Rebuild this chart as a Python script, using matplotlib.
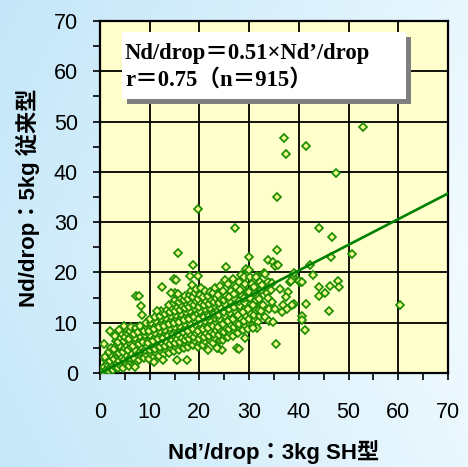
import numpy as np
import matplotlib.pyplot as plt
from matplotlib.ticker import MultipleLocator
from matplotlib.patches import Rectangle

# dense cloud, read column by column (x ~ 1 unit wide strips)
cloud_x = [
    0.6, 0.9, 1.2, 1.5, 1.3, 1.0,
    1.8, 2.1, 2.4, 2.0, 2.6, 2.3, 1.9, 2.2,
    2.7, 3.0, 3.3, 2.9, 3.5, 3.1, 2.8, 3.4, 3.2, 3.0,
    3.7, 4.1, 3.9, 4.3, 3.8, 4.4, 4.0, 3.6, 4.2, 4.5, 3.9,
    4.7, 5.2, 4.9, 5.4, 4.6, 5.1, 5.3, 4.8, 5.0, 5.5, 5.2, 4.9,
    5.8, 6.2, 6.0, 6.4, 5.7, 6.3, 6.1, 5.9, 6.5, 6.0, 6.2,
    6.8, 7.2, 6.9, 7.4, 7.0, 6.7, 7.3, 7.1, 6.9, 7.5, 7.2,
    7.8, 8.2, 8.0, 8.4, 7.9, 8.3, 8.1, 7.7, 8.5, 8.0,
    8.8, 9.2, 9.0, 9.4, 8.7, 9.3, 9.1, 8.9, 9.5, 9.2,
    9.8, 10.2, 10.0, 10.4, 9.7, 10.3, 10.1, 9.9, 10.5, 10.2, 10.0,
    10.8, 11.2, 11.0, 11.4, 10.7, 11.3, 11.1, 10.9, 11.5, 11.2, 11.0,
    11.8, 12.2, 12.0, 12.4, 11.7, 12.3, 12.1, 11.9, 12.5, 12.2, 12.0, 12.3,
    12.8, 13.2, 13.0, 13.4, 12.7, 13.3, 13.1, 12.9, 13.5, 13.2, 13.0, 13.4,
    13.8, 14.2, 14.0, 14.4, 13.7, 14.3, 14.1, 13.9, 14.5, 14.2, 14.0, 14.4, 13.8,
    14.8, 15.2, 15.0, 15.4, 14.7, 15.3, 15.1, 14.9, 15.5, 15.2, 15.0, 15.4, 14.8, 15.1,
    15.8, 16.2, 16.0, 16.4, 15.7, 16.3, 16.1, 15.9, 16.5, 16.2, 16.0, 16.4, 15.8, 16.1,
    16.8, 17.2, 17.0, 17.4, 16.7, 17.3, 17.1, 16.9, 17.5, 17.2, 17.0, 17.4, 16.8, 17.1,
    17.8, 18.2, 18.0, 18.4, 17.7, 18.3, 18.1, 17.9, 18.5, 18.2, 18.0, 18.4, 17.8, 18.1, 18.3,
    18.8, 19.2, 19.0, 19.4, 18.7, 19.3, 19.1, 18.9, 19.5, 19.2, 19.0, 19.4, 18.8, 19.1, 19.3,
    19.8, 20.2, 20.0, 20.4, 19.7, 20.3, 20.1, 19.9, 20.5, 20.2, 20.0, 20.4, 19.8, 20.1, 20.3,
    20.8, 21.2, 21.0, 21.4, 20.7, 21.3, 21.1, 20.9, 21.5, 21.2, 21.0, 21.4, 20.8, 21.1,
    21.8, 22.2, 22.0, 22.4, 21.7, 22.3, 22.1, 21.9, 22.5, 22.2, 22.0, 22.4, 21.8, 22.1,
    22.8, 23.2, 23.0, 23.4, 22.7, 23.3, 23.1, 22.9, 23.5, 23.2, 23.0, 23.4, 22.8, 23.1,
    23.8, 24.2, 24.0, 24.4, 23.7, 24.3, 24.1, 23.9, 24.5, 24.2, 24.0, 24.4, 23.8, 24.1,
    24.8, 25.2, 25.0, 25.4, 24.7, 25.3, 25.1, 24.9, 25.5, 25.2, 25.0, 25.4, 24.8, 25.1,
    25.8, 26.2, 26.0, 26.4, 25.7, 26.3, 26.1, 25.9, 26.5, 26.2, 26.0, 26.4, 25.8,
    26.8, 27.2, 27.0, 27.4, 26.7, 27.3, 27.1, 26.9, 27.5, 27.2, 27.0, 27.4, 26.8,
    27.8, 28.2, 28.0, 28.4, 27.7, 28.3, 28.1, 27.9, 28.5, 28.2, 28.0, 28.4,
    28.8, 29.2, 29.0, 29.4, 28.7, 29.3, 29.1, 28.9, 29.5, 29.2, 29.0, 29.4,
    29.8, 30.2, 30.0, 30.4, 29.7, 30.3, 30.1, 29.9, 30.5, 30.2, 30.0,
    30.8, 31.2, 31.0, 31.4, 30.7, 31.3, 31.1, 30.9, 31.5,
    31.8, 32.2, 32.0, 32.4, 31.7, 32.3, 32.1,
    32.9, 31.4, 34.2, 38.2, 38.8, 40.2, 31.5, 32.4, 33.2, 32.8, 31.9, 33.5, 32.6, 33.9, 34.6, 36.2, 30.7,
]
cloud_y = [
    0.4, 1.1, 0.6, 1.8, 2.5, 3.2,
    0.3, 1.0, 1.6, 2.3, 2.9, 3.6, 4.2, 5.0,
    0.5, 1.2, 2.0, 2.7, 3.3, 4.1, 4.8, 5.6, 6.4, 7.4,
    0.9, 1.6, 2.4, 3.1, 3.9, 4.6, 5.4, 6.2, 7.0, 7.8, 8.6,
    1.0, 1.8, 2.5, 3.3, 4.1, 4.9, 5.6, 6.4, 7.2, 8.0, 8.8, 9.3,
    1.3, 2.1, 2.9, 3.7, 4.5, 5.2, 6.0, 6.8, 7.6, 8.4, 9.1,
    1.6, 2.2, 3.0, 3.8, 4.6, 5.4, 6.1, 6.9, 7.7, 8.5, 9.0,
    2.6, 3.4, 4.2, 5.0, 5.8, 6.5, 7.3, 8.1, 8.7, 9.4,
    3.0, 3.8, 4.6, 5.3, 6.1, 6.9, 7.6, 8.4, 9.2, 9.9,
    2.8, 3.7, 4.5, 5.2, 6.0, 6.8, 7.6, 8.3, 9.1, 9.9, 10.7,
    3.2, 4.0, 4.8, 5.6, 6.4, 7.2, 8.0, 8.8, 9.6, 10.4, 11.1,
    3.4, 4.3, 5.1, 5.9, 6.7, 7.5, 8.3, 9.1, 9.9, 10.7, 11.4, 12.3,
    3.8, 4.6, 5.4, 6.2, 7.0, 7.8, 8.6, 9.4, 10.2, 11.0, 11.8, 12.6,
    4.0, 4.9, 5.7, 6.5, 7.3, 8.1, 8.9, 9.7, 10.5, 11.3, 12.1, 12.9, 13.6,
    4.3, 5.1, 5.9, 6.7, 7.5, 8.3, 9.1, 9.9, 10.7, 11.5, 12.3, 13.1, 13.9, 14.6,
    4.6, 5.4, 6.2, 7.0, 7.8, 8.6, 9.4, 10.2, 11.0, 11.8, 12.6, 13.4, 14.2, 15.0,
    5.0, 5.8, 6.6, 7.4, 8.2, 9.0, 9.8, 10.6, 11.4, 12.2, 13.0, 13.8, 14.6, 15.4,
    5.2, 6.0, 6.8, 7.6, 8.4, 9.2, 10.0, 10.8, 11.6, 12.4, 13.2, 14.0, 14.8, 15.6, 16.4,
    5.5, 6.3, 7.1, 7.9, 8.7, 9.5, 10.3, 11.1, 11.9, 12.7, 13.5, 14.3, 15.1, 15.9, 16.7,
    5.2, 6.0, 6.8, 7.6, 8.4, 9.2, 10.0, 10.8, 11.6, 12.4, 13.2, 14.0, 14.8, 15.6, 17.0,
    5.6, 6.4, 7.2, 8.0, 8.8, 9.6, 10.4, 11.2, 12.0, 12.8, 13.6, 14.4, 15.2, 16.4,
    4.6, 6.6, 7.4, 8.2, 9.0, 9.8, 10.6, 11.4, 12.2, 13.0, 13.8, 14.6, 15.4, 16.2,
    6.0, 6.9, 7.7, 8.5, 9.3, 10.1, 10.9, 11.7, 12.5, 13.3, 14.1, 14.9, 15.9, 17.0,
    5.0, 6.6, 7.5, 8.3, 9.1, 9.9, 10.7, 11.5, 12.3, 13.1, 13.9, 14.7, 15.6, 17.4,
    6.6, 7.4, 8.2, 9.0, 9.8, 10.6, 11.4, 12.2, 13.0, 13.8, 14.6, 15.4, 16.4, 18.5,
    7.2, 8.0, 8.8, 9.6, 10.4, 11.2, 12.0, 12.8, 13.6, 14.4, 15.2, 16.4, 17.6,
    7.4, 8.3, 9.1, 9.9, 10.7, 11.5, 12.3, 13.1, 13.9, 14.7, 15.8, 17.2, 18.6,
    8.0, 8.9, 9.8, 10.7, 11.6, 12.5, 13.4, 14.3, 15.4, 16.6, 18.0, 19.4,
    8.6, 9.5, 10.4, 11.3, 12.2, 13.1, 14.0, 15.0, 16.2, 17.6, 19.0, 20.6,
    8.8, 9.8, 10.8, 11.8, 12.8, 13.8, 15.0, 16.2, 17.6, 19.0, 20.4,
    9.6, 10.6, 11.6, 12.6, 13.6, 14.6, 16.0, 17.2, 19.2,
    10.2, 11.4, 12.6, 13.8, 15.2, 16.6, 18.0,
    19.9, 19.1, 17.9, 18.0, 19.1, 18.0, 8.9, 12.3, 11.2, 13.5, 14.8, 16.0, 17.5, 12.8, 14.2, 16.8, 8.9,
]

# scattered points away from the main cloud
outlier_x = [52.9, 37.1, 37.4, 41.4, 47.4, 35.7, 19.8, 27.2, 44.1, 46.6,
             35.7, 46.5, 50.7, 15.6, 30.0, 33.8, 34.8, 35.3, 35.9, 18.8,
             25.3, 42.2, 42.8, 60.4, 44.1, 44.0, 45.2, 46.2, 47.9, 48.1,
             46.1, 41.2, 41.5, 40.6, 40.7, 40.1, 40.6, 39.1, 38.4, 37.9,
             37.4, 39.1, 38.6, 36.8, 36.6, 37.6, 35.3, 34.0, 34.8, 35.4,
             33.8, 34.4, 33.8, 34.5, 33.1, 27.5, 28.0, 24.6, 23.6, 29.1,
             15.4, 17.4, 10.9, 12.6, 7.1, 0.9, 2.0, 7.2, 7.9, 8.3,
             8.5, 11.4, 12.5, 14.8, 15.2, 15.1, 15.6, 14.3, 18.1, 18.6,
             19.7]
outlier_y = [49.0, 46.7, 43.6, 45.2, 39.8, 35.0, 32.7, 28.8, 28.9, 27.0,
             24.5, 23.0, 23.6, 23.9, 23.0, 22.4, 22.1, 21.2, 21.5, 21.4,
             21.0, 21.4, 19.5, 13.6, 17.2, 15.4, 15.9, 17.4, 18.2, 17.1,
             12.3, 8.6, 13.7, 11.4, 10.6, 18.2, 18.1, 19.9, 18.2, 16.2,
             15.1, 13.8, 13.6, 13.6, 12.1, 12.7, 12.7, 10.3, 10.1, 5.8,
             14.9, 16.6, 18.0, 17.9, 19.7, 5.0, 4.8, 4.5, 5.0, 7.0,
             2.5, 2.5, 2.1, 2.6, 1.1, 5.8, 8.4, 15.4, 15.4, 13.4,
             11.5, 12.3, 17.1, 18.7, 18.5, 15.9, 15.8, 15.9, 19.3, 17.5,
             19.3]

slope = 0.51
fit_x = [0, 70]

sans = ['Liberation Sans', 'Noto Sans CJK JP']
serif = ['Liberation Serif', 'Noto Sans CJK JP']

fig = plt.figure(figsize=(4.68, 4.67), dpi=100)

# light blue page background
bg = fig.add_axes([0, 0, 1, 1], zorder=-10)
gx, gy = np.meshgrid(np.linspace(0, 1, 200), np.linspace(0, 1, 200))
w = np.clip(0.2 + 0.8 * gx - 0.4 * np.abs(gy - 0.55), 0, 1)[..., None]
blue = np.array([0.77, 0.905, 0.975])
white = np.array([0.95, 0.985, 1.0])
bg.imshow(blue * (1 - w) + white * w, aspect='auto', extent=[0, 1, 0, 1])
bg.axis('off')

ax = fig.add_axes([100/468, 94/467, 348/468, 352/467])
ax.set_facecolor('#FFFFCC')
ax.set_xlim(0, 70)
ax.set_ylim(0, 70)
ax.xaxis.set_major_locator(MultipleLocator(10))
ax.yaxis.set_major_locator(MultipleLocator(10))
ax.xaxis.set_minor_locator(MultipleLocator(5))
ax.yaxis.set_minor_locator(MultipleLocator(5))
ax.grid(True, which='major', color='black', lw=1.3)
ax.set_axisbelow(True)
ax.tick_params(which='both', direction='out', length=5, width=1.2,
               labelsize=15.5)
ax.tick_params(axis='x', pad=16)
ax.tick_params(axis='y', pad=11)
for t in ax.get_xticklabels() + ax.get_yticklabels():
    t.set_family(sans)
for s in ax.spines.values():
    s.set_linewidth(1.6)

ax.plot(cloud_x + outlier_x, cloud_y + outlier_y, 'D', ms=4.2,
        mfc='#F2F890', mec='#1E8C00', mew=1.25, zorder=3)
ax.plot(fit_x, [slope * v for v in fit_x], color='#008000', lw=1.9, zorder=4)

# equation box with shadow
ax.add_patch(Rectangle((5.4, 53.5), 57.2, 13.4, facecolor='#808080',
                       edgecolor='none', zorder=5))
ax.add_patch(Rectangle((4.4, 54.5), 57.2, 13.4, facecolor='white',
                       edgecolor='none', zorder=6))
ax.text(5.0, 63.6, 'Nd/drop＝0.51×Nd’/drop', family=serif, weight='bold',
        fontsize=16.3, va='center', ha='left', zorder=7)
ax.text(5.0, 58.2, 'r＝0.75（n＝915）', family=serif, weight='bold',
        fontsize=16.3, va='center', ha='left', zorder=7)

fig.text(28/468, 1 - 198/467, 'Nd/drop：5kg 従来型', family=sans, weight='bold',
         fontsize=16, rotation=90, ha='center', va='center')
fig.text(274/468, 1 - 452/467, 'Nd’/drop：3kg SH型', family=sans, weight='bold',
         fontsize=16, ha='center', va='center')

fig.savefig('out.png', dpi=100)
